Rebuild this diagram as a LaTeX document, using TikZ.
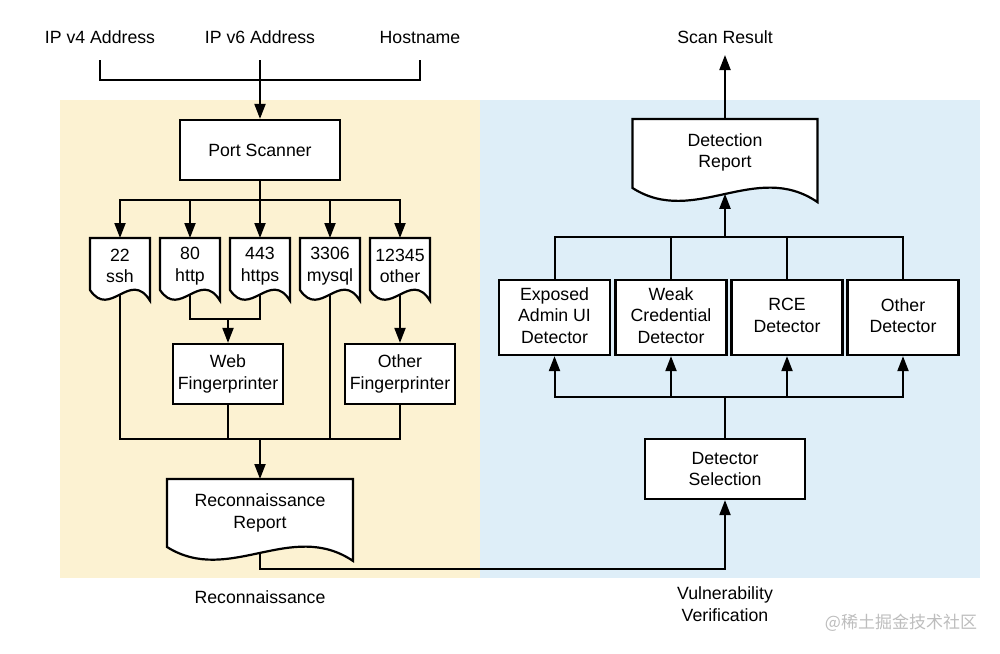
\documentclass[tikz,border=0pt]{standalone}
\usepackage{fontspec}
\setmainfont{Liberation Sans}
\newfontfamily\cjkfont{Noto Sans CJK SC}
\usetikzlibrary{arrows.meta,calc}
\pgfdeclarelayer{bg}
\pgfdeclarelayer{edges}
\pgfsetlayers{bg,edges,main}
\definecolor{reconbg}{HTML}{FCF2D2}
\definecolor{vulnbg}{HTML}{DEEEF8}
\definecolor{wmark}{HTML}{BDBDBD}
\tikzset{
  lab/.style={font={\fontsize{17.7pt}{21.5pt}\selectfont}, align=center},
  box/.style 2 args={lab, draw, fill=white, line width=2.2pt, minimum width=#1, minimum height=#2, inner sep=0pt},
  docnode/.style 2 args={lab, minimum width=#1, minimum height=#2, inner sep=0pt, outer sep=0pt},
  docline/.style={draw, fill=white, line width=2.2pt, line join=miter},
  conn/.style={line width=2pt},
  arr/.style={conn, -{Triangle[width=11pt,length=15pt]}},
}
\newcommand\docoutline[1]{%
  \path[docline] let \p1=(#1.north west), \p2=(#1.south east), \n1={\x2-\x1}, \n2={\y1-\y2} in
    (\x1,\y1) -- (\x2,\y1) -- (\x2,{\y1-1.2048*\n2})
    .. controls ({\x1+0.6667*\n1},{\y1-0.5916*\n2}) and ({\x1+0.3333*\n1},{\y1-1.571*\n2}) .. (\x1,\y2) -- cycle;}
\begin{document}
\begin{tikzpicture}[x=1pt,y=-1pt]
\useasboundingbox (0,0) rectangle (1000,653);
\begin{pgfonlayer}{bg}
  \fill[reconbg] (60,100) rectangle (480,578);
  \fill[vulnbg] (480,100) rectangle (980,578);
\end{pgfonlayer}

% labels
\node[lab] (ipv4) at (100,37) {IP v4 Address};
\node[lab] (ipv6) at (260,37) {IP v6 Address};
\node[lab] (host) at (420,37) {Hostname};
\node[lab] (scan) at (725,37) {Scan Result};
\node[lab] (reconlab) at (260,597) {Reconnaissance};
\node[lab] (vulnlab) at (725,604) {Vulnerability\\Verification};
\node[text=wmark, font={\cjkfont\fontsize{17pt}{17pt}\selectfont}] (wm) at (901,623) {@稀土掘金技术社区};

\coordinate (ipv4b) at (100,60);
\coordinate (ipv6b) at (260,60);
\coordinate (hostb) at (420,60);
\coordinate (scanb) at (725,55);

% left side
\node[box={160pt}{60pt}] (ps) at (260,150) {Port Scanner};
\node[docnode={60pt}{52pt}] (d22) at (120,264) {};
\node[docnode={60pt}{52pt}] (d80) at (190,264) {};
\node[docnode={60pt}{52pt}] (d443) at (260,264) {};
\node[docnode={60pt}{52pt}] (d3306) at (330,264) {};
\node[docnode={60pt}{52pt}] (d12345) at (400,264) {};
\node[box={110pt}{60pt}] (wf) at (228,374) {Web\\Fingerprinter};
\node[box={110pt}{60pt}] (of) at (400,374) {Other\\Fingerprinter};
\node[docnode={186pt}{68pt}] (rr) at (260,513) {};

% right side
\node[docnode={185pt}{69pt}] (dr) at (725,153.5) {};
\node[box={111pt}{75pt}] (ex) at (554.5,317.5) {};
\node[box={111pt}{75pt}] (wk) at (671,317.5) {};
\node[box={111pt}{75pt}] (rce) at (787,317.5) {};
\node[box={111pt}{75pt}] (oth) at (903,317.5) {};
\node[box={160pt}{60pt}] (ds) at (725,469) {Detector\\Selection};
\node[lab] (exT) at ([yshift=2pt]ex.center) {Exposed\\Admin UI\\Detector};
\node[lab] (wkT) at ([yshift=2pt]wk.center) {Weak\\Credential\\Detector};
\node[lab] (rceT) at ([yshift=2pt]rce.center) {RCE\\Detector};
\node[lab] (othT) at ([yshift=2pt]oth.center) {Other\\Detector};

% document outlines
\docoutline{d22}
\docoutline{d80}
\docoutline{d443}
\docoutline{d3306}
\docoutline{d12345}
\docoutline{rr}
\docoutline{dr}
\node[lab] (d22T) at ([yshift=-2pt]d22.center) {22\\ssh};
\node[lab] (d80T) at ([yshift=-2pt]d80.center) {80\\http};
\node[lab] (d443T) at ([yshift=-2pt]d443.center) {443\\https};
\node[lab] (d3306T) at ([yshift=-2pt]d3306.center) {3306\\mysql};
\node[lab] (d12345T) at ([yshift=-2pt]d12345.center) {12345\\other};
\node[lab] (rrT) at (rr.center) {Reconnaissance\\Report};
\node[lab] (drT) at ([yshift=1pt]dr.center) {Detection\\Report};

\coordinate (j1) at (260,80);
\coordinate (j2) at (260,200);
\coordinate (j3) at (228,319);
\coordinate (j4) at (260,439);
\coordinate (j5) at (725,569);
\coordinate (j6) at (725,397);
\coordinate (j7) at (725,237);
\coordinate (drtip) at ($(dr.north)!1.084!(dr.south)$);

\begin{pgfonlayer}{edges}
  \draw[conn] (ipv4b) |- (j1) -| (hostb);
  \draw[arr] (ipv6b) -- (ps);
  \draw[conn] (ps) -- (j2);
  \draw[arr] (j2) -| (d22);
  \draw[arr] (j2) -| (d80);
  \draw[arr] (j2) -- (d443);
  \draw[arr] (j2) -| (d3306);
  \draw[arr] (j2) -| (d12345);
  \draw[conn] (d80) |- (j3) -| (d443);
  \draw[arr] (j3) -- (wf);
  \draw[arr] (d12345) -- (of);
  \draw[conn] (d22) |- (j4) -| (of);
  \draw[conn] (wf) -- (wf |- j4);
  \draw[conn] (d3306) -- (d3306 |- j4);
  \draw[arr] (j4) -- (rr);
  \draw[arr] (rr) |- (j5) -- (ds);
  \draw[conn] (ds) -- (j6);
  \draw[arr] (j6) -| (ex);
  \draw[arr] (j6) -| (wk);
  \draw[arr] (j6) -| (rce);
  \draw[arr] (j6) -| (oth);
  \draw[conn] (ex) |- (j7);
  \draw[conn] (wk) |- (j7);
  \draw[conn] (rce) |- (j7);
  \draw[conn] (oth) |- (j7);
  \draw[arr] (j7) -- (drtip);
  \draw[arr] (dr) -- (scanb);
\end{pgfonlayer}
\end{tikzpicture}
\end{document}
